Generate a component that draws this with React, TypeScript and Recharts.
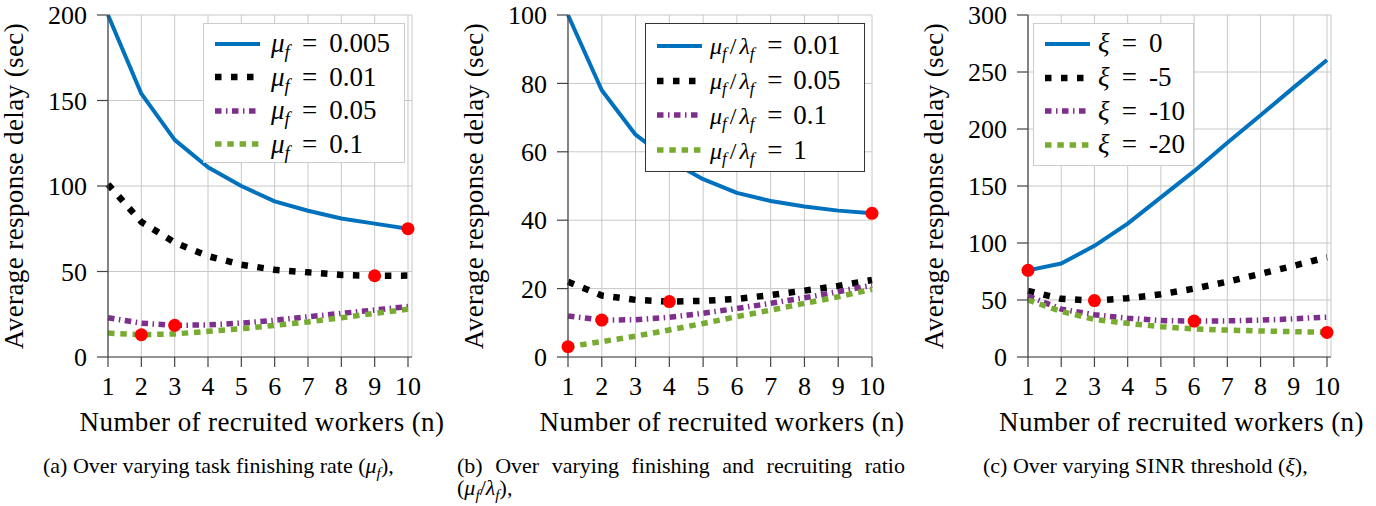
import { ComposedChart, Line, Scatter, XAxis, YAxis, CartesianGrid, Legend } from "recharts";

const FONT = "'Liberation Serif', 'Times New Roman', serif";

const WORKERS = [1, 2, 3, 4, 5, 6, 7, 8, 9, 10];

// (a) varying task finishing rate
const MU_LABELS = ["0.005", "0.01", "0.05", "0.1"];
const DELAY_MU_0005 = [200, 154, 127, 111, 100, 91, 85.5, 81, 78, 75];
const DELAY_MU_001 = [101, 79, 67, 59, 54, 51, 49.5, 48, 47.5, 47.6];
const DELAY_MU_005 = [23, 19.8, 18.5, 18.8, 19.8, 21.5, 23.5, 25.5, 27.5, 29.5];
const DELAY_MU_01 = [14, 13, 13.5, 15, 16.5, 18.5, 20.5, 23, 25.5, 28];
const OPT_A_N = [10, 9, 3, 2];
const OPT_A_DELAY = [75, 47.5, 18.5, 13];
const TICKS_A = [0, 50, 100, 150, 200];

// (b) varying finishing / recruiting ratio
const RATIO_LABELS = ["0.01", "0.05", "0.1", "1"];
const DELAY_R_001 = [100, 78, 65, 57.5, 52, 48, 45.6, 44, 42.8, 42];
const DELAY_R_005 = [22, 18, 16.7, 16.2, 16.4, 17, 18.1, 19.4, 20.8, 22.5];
const DELAY_R_01 = [12, 10.8, 10.9, 11.6, 12.8, 14.2, 15.7, 17.3, 19.1, 21];
const DELAY_R_1 = [3, 4.5, 6.1, 7.9, 9.8, 11.8, 13.7, 15.7, 17.6, 19.8];
const OPT_B_N = [10, 4, 2, 1];
const OPT_B_DELAY = [42, 16.2, 10.8, 3];
const TICKS_B = [0, 20, 40, 60, 80, 100];

// (c) varying SINR threshold
const XI_LABELS = ["0", "-5", "-10", "-20"];
const DELAY_XI_0 = [76, 82, 97.5, 117, 140, 163, 188, 212, 236.5, 260.5];
const DELAY_XI_M5 = [58, 51, 49.5, 51.5, 55, 60, 66, 73, 80, 87.5];
const DELAY_XI_M10 = [53.5, 42, 37, 34, 32, 31.5, 31.7, 32.3, 33.5, 35];
const DELAY_XI_M20 = [50, 40, 33, 29.5, 26.6, 24.6, 23.6, 22.8, 22.2, 21.6];
const OPT_C_N = [1, 3, 6, 10];
const OPT_C_DELAY = [76, 49.5, 31.5, 21.6];
const TICKS_C = [0, 50, 100, 150, 200, 250, 300];

const STYLES = [
  { color: "#0072BD", width: 4, dash: undefined as string | undefined },
  { color: "#000000", width: 6.5, dash: "6.5 9.5" },
  { color: "#7E2F8E", width: 5.5, dash: "6.5 4.5 1.5 4.5" },
  { color: "#77AC30", width: 5.5, dash: "6.5 5.8" },
];

const AXIS = "#444";
const GRID = "#c8c8c8";

const Sub = ({ children, gap = 0 }: { children: any; gap?: number }) => (
  <span style={{ fontSize: "0.7em", verticalAlign: "-0.3em", lineHeight: 0, fontStyle: "italic", marginRight: gap }}>{children}</span>
);

const muPrefix = () => (
  <>
    <i>μ</i>
    <Sub>f</Sub>
  </>
);
const ratioPrefix = () => (
  <span style={{ fontSize: 24 }}>
    <i>μ</i>
    <Sub gap={3}>f</Sub>
    <span style={{ marginRight: 3 }}>/</span>
    <i>λ</i>
    <Sub gap={2}>f</Sub>
  </span>
);
const xiPrefix = () => <i>ξ</i>;

interface PanelProps {
  left: number;
  width: number;
  marginRight: number;
  series: number[][];
  labels: string[];
  prefix: () => any;
  yTicks: number[];
  optN: number[];
  optDelay: number[];
  padRight: number;
  legend: { left: number; width: number; height: number; border: string; pad: number; row: number; gap: number; eq: string };
}

const Panel = ({ left, width, marginRight, series, labels, prefix, yTicks, optN, optDelay, padRight, legend }: PanelProps) => {
  const rows = WORKERS.map((n, i) => {
    const r: any = { n };
    series.forEach((s, k) => (r["s" + k] = s[i]));
    return r;
  });
  const opt = optN.map((n, i) => ({ n, opt: optDelay[i] }));
  const yMax = yTicks[yTicks.length - 1];
  const tickFont = { fontSize: 26, fontFamily: FONT, fill: "#000" };

  const renderLegend = (props: any) => {
    const items = (props.payload || []).filter((p: any) => String(p.dataKey).startsWith("s"));
    return (
      <div
        style={{
          boxSizing: "border-box",
          width: legend.width,
          height: legend.height,
          border: `1.3px solid ${legend.border}`,
          background: "#fff",
          paddingTop: legend.pad,
          fontFamily: FONT,
          fontSize: 27,
          color: "#000",
        }}
      >
        {items.map((it: any) => {
          const k = Number(String(it.dataKey).slice(1));
          const st = STYLES[k];
          return (
            <div key={it.dataKey} style={{ display: "flex", alignItems: "center", height: legend.row, whiteSpace: "nowrap" }}>
              <svg width={45} height={8} style={{ marginLeft: 11, flex: "none" }}>
                <line x1={0} y1={4} x2={45} y2={4} stroke={st.color} strokeWidth={st.width} strokeDasharray={st.dash} />
              </svg>
              <span style={{ marginLeft: legend.gap, lineHeight: 1 }}>
                {prefix()}
                <span style={{ margin: `0 ${legend.eq}` }}>=</span>
                {labels[k]}
              </span>
            </div>
          );
        })}
      </div>
    );
  };

  return (
    <div style={{ position: "absolute", left, top: 0 }}>
      <ComposedChart width={width} height={440} data={rows} margin={{ top: 15, right: marginRight, bottom: 0, left: 0 }}>
        <CartesianGrid stroke={GRID} strokeWidth={1} />
        <XAxis
          dataKey="n"
          type="number"
          domain={[1, 10]}
          ticks={WORKERS}
          interval={0}
          padding={{ left: 0, right: padRight }}
          height={83}
          tick={tickFont}
          tickSize={10}
          tickMargin={9.5}
          stroke={AXIS}
          axisLine={{ stroke: AXIS, strokeWidth: 1.2 }}
          tickLine={{ stroke: AXIS, strokeWidth: 1.2 }}
          label={{
            value: "Number of recruited workers (n)",
            content: (p: any) => (
              <text
                x={p.viewBox.x + p.viewBox.width / 2 + 2}
                y={p.viewBox.y + 74}
                textAnchor="middle"
                fontSize={27}
                letterSpacing={0.4}
                fontFamily={FONT}
                fill="#000"
              >
                Number of recruited workers (n)
              </text>
            ),
          }}
        />
        <XAxis xAxisId="top" orientation="top" type="number" domain={[1, 10]} height={0} tick={false} tickLine={false} axisLine={{ stroke: AXIS, strokeWidth: 1.2 }} />
        <YAxis
          type="number"
          domain={[0, yMax]}
          ticks={yTicks}
          interval={0}
          width={108}
          tick={tickFont}
          tickSize={11}
          tickMargin={10}
          axisLine={{ stroke: AXIS, strokeWidth: 1.2 }}
          tickLine={{ stroke: AXIS, strokeWidth: 1.2 }}
          label={{
            value: "Average response delay (sec)",
            content: (p: any) => {
              const cx = p.viewBox.x + 23;
              const cy = p.viewBox.y + p.viewBox.height / 2;
              return (
                <text
                  x={cx}
                  y={cy}
                  transform={`rotate(-90, ${cx}, ${cy})`}
                  textAnchor="middle"
                  fontSize={27}
                  letterSpacing={0.4}
                  fontFamily={FONT}
                  fill="#000"
                >
                  Average response delay (sec)
                </text>
              );
            },
          }}
        />
        <YAxis yAxisId="right" orientation="right" type="number" domain={[0, yMax]} width={0} tick={false} tickLine={false} axisLine={{ stroke: AXIS, strokeWidth: 1.2 }} />
        <Legend
          layout="vertical"
          align="center"
          verticalAlign="middle"
          content={renderLegend}
          wrapperStyle={{ top: 23, left: legend.left, width: "auto", height: "auto" }}
        />
        {series.map((_, k) => (
          <Line
            key={k}
            type="linear"
            dataKey={"s" + k}
            stroke={STYLES[k].color}
            strokeWidth={STYLES[k].width}
            strokeDasharray={STYLES[k].dash}
            strokeLinecap="butt"
            strokeLinejoin="round"
            dot={false}
            activeDot={false}
            isAnimationActive={false}
          />
        ))}
        <Scatter
          data={opt}
          dataKey="opt"
          legendType="none"
          isAnimationActive={false}
          shape={(p: any) => <circle cx={p.cx} cy={p.cy} r={6.5} fill="#ff0000" />}
        />
      </ComposedChart>
    </div>
  );
};

const captionStyle: any = {
  position: "absolute",
  top: 455,
  fontFamily: FONT,
  fontSize: 22,
  lineHeight: "22px",
  color: "#000",
};

export default function App() {
  return (
    <div style={{ position: "absolute", left: 0, top: 0, width: 1376, height: 506, background: "#fff", overflow: "hidden" }}>
      <Panel
        left={0}
        width={460}
        marginRight={48}
        series={[DELAY_MU_0005, DELAY_MU_001, DELAY_MU_005, DELAY_MU_01]}
        labels={MU_LABELS}
        prefix={muPrefix}
        yTicks={TICKS_A}
        optN={OPT_A_N}
        optDelay={OPT_A_DELAY}
        padRight={4}
        legend={{ left: 203, width: 202, height: 140, border: "#cccccc", pad: 3.3, row: 33.4, gap: 11, eq: "0.45em" }}
      />
      <Panel
        left={460}
        width={460}
        marginRight={48}
        series={[DELAY_R_001, DELAY_R_005, DELAY_R_01, DELAY_R_1]}
        labels={RATIO_LABELS}
        prefix={ratioPrefix}
        yTicks={TICKS_B}
        optN={OPT_B_N}
        optDelay={OPT_B_DELAY}
        padRight={0}
        legend={{ left: 185, width: 220, height: 149, border: "#333333", pad: 4.6, row: 34.7, gap: 8, eq: "0.4em" }}
      />
      <Panel
        left={920}
        width={456}
        marginRight={45}
        series={[DELAY_XI_0, DELAY_XI_M5, DELAY_XI_M10, DELAY_XI_M20]}
        labels={XI_LABELS}
        prefix={xiPrefix}
        yTicks={TICKS_C}
        optN={OPT_C_N}
        optDelay={OPT_C_DELAY}
        padRight={4}
        legend={{ left: 113, width: 161, height: 143, border: "#cccccc", pad: 3.2, row: 33.6, gap: 8, eq: "0.45em" }}
      />

      <div style={{ ...captionStyle, left: 43, whiteSpace: "nowrap" }}>
        (a) Over varying task finishing rate (<i>μ</i>
        <Sub>f</Sub>),
      </div>
      <div style={{ ...captionStyle, left: 457, width: 448, textAlign: "justify" }}>
        (b) Over varying finishing and recruiting ratio{" "}
        <span style={{ whiteSpace: "nowrap" }}>
          (<i>μ</i>
          <Sub>f</Sub>/<i>λ</i>
          <Sub>f</Sub>),
        </span>
      </div>
      <div style={{ ...captionStyle, left: 983, whiteSpace: "nowrap" }}>
        (c) Over varying SINR threshold (<i>ξ</i>),
      </div>
    </div>
  );
}
